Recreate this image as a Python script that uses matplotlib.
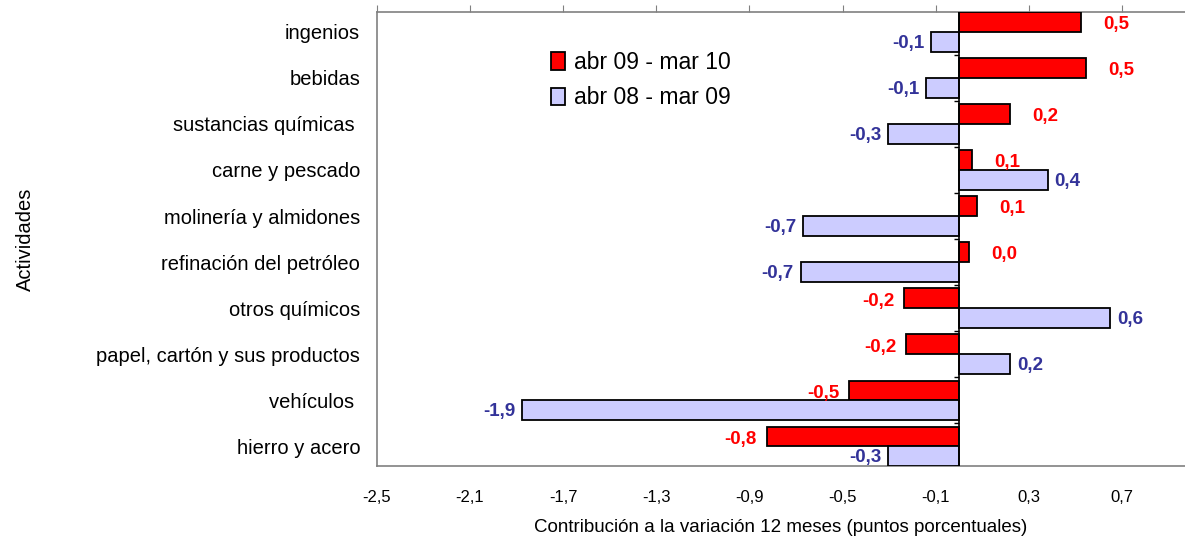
import matplotlib.pyplot as plt
import numpy as np

plt.rcParams['font.family'] = ['Liberation Sans', 'DejaVu Sans']

actividades = ['ingenios', 'bebidas', 'sustancias químicas ', 'carne y pescado',
               'molinería y almidones', 'refinación del petróleo', 'otros químicos',
               'papel, cartón y sus productos', 'vehículos ', 'hierro y acero']
serie_09_10 = [0.525, 0.546, 0.22, 0.056, 0.077, 0.043, -0.237, -0.228, -0.473, -0.826]
serie_08_09 = [-0.12, -0.14, -0.305, 0.38, -0.67, -0.68, 0.65, 0.22, -1.875, -0.305]
etiquetas_09_10 = ['0,5', '0,5', '0,2', '0,1', '0,1', '0,0', '-0,2', '-0,2', '-0,5', '-0,8']
etiquetas_08_09 = ['-0,1', '-0,1', '-0,3', '0,4', '-0,7', '-0,7', '0,6', '0,2', '-1,9', '-0,3']
ticks_x = [-2.5, -2.1, -1.7, -1.3, -0.9, -0.5, -0.1, 0.3, 0.7]

rojo = '#FF0000'
azul_claro = '#CCCCFF'
azul_texto = '#333399'

fig = plt.figure(figsize=(11.85, 5.44), dpi=100)
ax = fig.add_axes([0.318, 0.143, 0.682, 0.835])

y = np.arange(len(actividades))
h = 0.43
ax.barh(y - h / 2, serie_09_10, height=h, color=rojo, edgecolor='black',
        linewidth=1.3, label='abr 09 - mar 10', zorder=3)
ax.barh(y + h / 2, serie_08_09, height=h, color=azul_claro, edgecolor='black',
        linewidth=1.3, label='abr 08 - mar 09', zorder=3)

for i in range(len(actividades)):
    v = serie_09_10[i]
    if v >= 0:
        ax.annotate(etiquetas_09_10[i], (v, y[i] - h / 2), xytext=(16, -2),
                    textcoords='offset points', ha='left', va='center',
                    color=rojo, fontsize=13.5, fontweight='bold')
    else:
        ax.annotate(etiquetas_09_10[i], (v, y[i] - h / 2), xytext=(-7, -2),
                    textcoords='offset points', ha='right', va='center',
                    color=rojo, fontsize=13.5, fontweight='bold')
    v = serie_08_09[i]
    if v >= 0:
        ax.annotate(etiquetas_08_09[i], (v, y[i] + h / 2), xytext=(5, -1),
                    textcoords='offset points', ha='left', va='center',
                    color=azul_texto, fontsize=13.5, fontweight='bold')
    else:
        ax.annotate(etiquetas_08_09[i], (v, y[i] + h / 2), xytext=(-5, -1),
                    textcoords='offset points', ha='right', va='center',
                    color=azul_texto, fontsize=13.5, fontweight='bold')

# linea del cero con marcas entre categorias
ax.axvline(0, color='black', linewidth=1.2, zorder=4)
ax.hlines(list(y[:-1] + 0.5) + [9.43], -0.02, 0, color='black', linewidth=1, zorder=4)

ax.set_xlim(-2.5, 0.97)
ax.set_ylim(9.43, -0.43)
ax.set_yticks(y)
ax.set_yticklabels(actividades, fontsize=14.5, va='bottom')
ax.tick_params(axis='y', length=0, pad=12)
for lbl in ax.get_yticklabels():
    lbl.set_verticalalignment('center_baseline')

ax.set_xticks(ticks_x)
ax.set_xticklabels([f'{t:.1f}'.replace('.', ',') for t in ticks_x], fontsize=12)
ax.tick_params(axis='x', bottom=False, top=True, labelbottom=True, labeltop=False,
               direction='out', length=5, color='#808080', pad=12)

for s in ['left', 'top', 'bottom']:
    ax.spines[s].set_color('#808080')
    ax.spines[s].set_linewidth(1.2)
ax.spines['right'].set_visible(False)

ax.set_xlabel('Contribución a la variación 12 meses (puntos porcentuales)', fontsize=13.5, labelpad=10)
ax.set_ylabel('Actividades', fontsize=14.5, labelpad=44)

ax.legend(loc='upper left', bbox_to_anchor=(0.19, 0.96), frameon=False, fontsize=16.5,
          handlelength=0.6, handleheight=0.8, handletextpad=0.4, labelspacing=0.55)

fig.savefig('out.png', dpi=100)
